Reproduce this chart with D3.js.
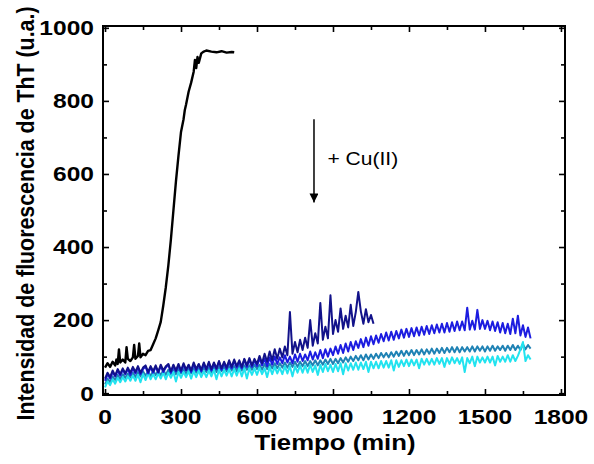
<!DOCTYPE html>
<html>
<head>
<meta charset="utf-8">
<script src="https://cdn.jsdelivr.net/npm/d3@7"></script>
<style>
  body { margin: 0; background: #fff; }
  svg { display: block; font-family: "Liberation Sans", Arial, sans-serif; }
</style>
</head>
<body>
<svg id="chart" width="594" height="464"></svg>
<script>
// sampling step (min) of the Cu(II) traces
const step = 10;

const blackTime = [0, 10, 20, 30, 40, 45, 50, 55, 60, 70, 80, 85, 90, 100, 110, 115, 120, 130, 135, 140,
  150, 160, 170, 180, 190, 200, 210, 220, 230, 240, 250, 260, 270, 280, 290, 300, 310, 315, 320, 330,
  340, 350, 355, 360, 365, 370, 380, 390, 400, 420, 440, 460, 480, 500, 510];
const blackValue = [70, 82, 72, 86, 76, 92, 80, 120, 84, 92, 84, 126, 94, 88, 98, 132, 94, 102, 136, 98,
  108, 104, 116, 118, 134, 150, 172, 195, 240, 290, 350, 420, 500, 580, 650, 715, 750, 775, 790, 825,
  850, 880, 912, 890, 920, 904, 930, 935, 938, 935, 933, 936, 932, 934, 933];

const navyValue = [
  40, 56, 44, 62, 48, 66, 52, 68, 54, 70,
  56, 72, 58, 74, 56, 70, 76, 58, 74, 60,
  76, 58, 78, 62, 74, 80, 60, 78, 62, 80,
  62, 82, 64, 78, 62, 84, 66, 80, 64, 84,
  66, 86, 66, 84, 68, 88, 68, 86, 70, 90,
  72, 92, 74, 90, 72, 94, 76, 96, 76, 94,
  80, 102, 82, 108, 86, 114, 90, 120, 94, 122,
  98, 128, 104, 222, 108, 140, 112, 146, 118, 152,
  124, 200, 130, 164, 136, 247, 146, 182, 150, 268,
  162, 200, 168, 232, 176, 212, 180, 242, 184, 222,
  277, 224, 190, 230, 194, 214, 190];

const blueValue = [
  34, 52, 40, 58, 46, 62, 48, 64, 52, 66,
  50, 68, 54, 70, 52, 66, 72, 54, 70, 56,
  72, 56, 74, 58, 70, 78, 56, 74, 60, 76,
  58, 78, 62, 76, 58, 80, 62, 78, 60, 80,
  64, 82, 62, 80, 66, 86, 64, 82, 66, 86,
  68, 88, 70, 86, 68, 92, 72, 92, 72, 90,
  74, 96, 76, 94, 74, 98, 78, 100, 80, 98,
  82, 104, 84, 100, 82, 106, 86, 108, 88, 106,
  90, 114, 92, 112, 94, 118, 96, 120, 100, 122,
  104, 128, 108, 132, 110, 136, 114, 140, 118, 142,
  124, 148, 126, 152, 130, 156, 134, 158, 138, 162,
  142, 166, 144, 168, 146, 170, 150, 174, 152, 176,
  154, 178, 156, 180, 158, 182, 160, 184, 162, 186,
  164, 188, 166, 190, 166, 192, 168, 194, 170, 196,
  172, 196, 172, 234, 174, 198, 174, 228, 176, 200,
  176, 198, 172, 196, 170, 194, 166, 192, 164, 190,
  162, 204, 164, 212, 158, 186, 154, 180, 150];

const tealValue = [
  24, 40, 30, 46, 36, 50, 38, 52, 42, 54,
  44, 56, 44, 58, 46, 60, 48, 60, 46, 62,
  50, 62, 48, 64, 50, 64, 52, 64, 52, 66,
  54, 66, 52, 68, 54, 68, 56, 68, 56, 70,
  58, 70, 56, 72, 58, 72, 60, 72, 60, 74,
  62, 74, 60, 76, 62, 76, 64, 76, 64, 78,
  66, 78, 64, 80, 66, 80, 68, 82, 68, 82,
  70, 84, 70, 84, 72, 86, 72, 86, 74, 88,
  74, 88, 76, 90, 76, 90, 78, 92, 80, 94,
  80, 94, 82, 96, 84, 98, 86, 100, 88, 102,
  90, 104, 90, 106, 92, 106, 94, 108, 96, 110,
  98, 110, 98, 112, 100, 114, 102, 116, 102, 116,
  104, 118, 104, 118, 106, 120, 106, 120, 108, 122,
  108, 122, 110, 124, 110, 124, 112, 126, 112, 126,
  112, 126, 114, 126, 114, 128, 114, 128, 116, 128,
  114, 128, 116, 130, 116, 128, 118, 130, 116, 130,
  118, 132, 118, 130, 118, 134, 120, 132, 122];

const cyanValue = [
  16, 32, 22, 38, 26, 42, 30, 44, 32, 46,
  34, 48, 34, 50, 30, 52, 36, 54, 38, 52,
  38, 54, 40, 56, 38, 56, 42, 58, 32, 58,
  42, 58, 44, 60, 40, 60, 44, 62, 44, 60,
  44, 62, 46, 64, 38, 64, 46, 64, 48, 66,
  46, 66, 48, 68, 46, 68, 40, 68, 50, 68,
  50, 70, 52, 68, 44, 72, 52, 72, 54, 70,
  52, 74, 54, 74, 46, 74, 56, 76, 56, 76,
  56, 78, 58, 76, 50, 78, 58, 80, 60, 78,
  58, 80, 60, 82, 52, 82, 62, 82, 64, 84,
  64, 84, 66, 86, 58, 86, 68, 86, 68, 88,
  70, 88, 70, 90, 62, 90, 72, 90, 74, 92,
  74, 92, 76, 92, 68, 94, 78, 94, 78, 94,
  78, 96, 80, 96, 72, 96, 80, 98, 82, 96,
  80, 98, 58, 96, 82, 100, 74, 100, 84, 98,
  84, 100, 84, 100, 76, 102, 86, 100, 86, 104,
  86, 104, 88, 102, 120, 140, 88, 104, 92];

const xTicks = [0, 300, 600, 900, 1200, 1500, 1800];
const xMinor = [150, 450, 750, 1050, 1350, 1650];
const yTicks = [0, 200, 400, 600, 800, 1000];
const yMinor = [100, 300, 500, 700, 900];

const xTitle = "Tiempo (min)";
const yTitle = "Intensidad de fluorescencia de ThT (u.a.)";
const noteText = "+ Cu(II)";
const noteArrow = { x: 825, from: 750, to: 522 };
const notePos = { x: 878, y: 625 };

const sx = 1.17; // horizontal stretch of the original artwork

const series = [
  { name: "teal", color: "#1f82b4", values: tealValue },
  { name: "cyan", color: "#22e3ef", values: cyanValue },
  { name: "blue", color: "#1c1ce0", values: blueValue },
  { name: "navy", color: "#12128a", values: navyValue },
];

const svg = d3.select("#chart");
const x = d3.scaleLinear().domain([-8, 1816]).range([103, 565]);
const y = d3.scaleLinear().domain([-5, 1005]).range([395, 26]);

const line = d3.line().x((d) => x(d[0])).y((d) => y(d[1]));

const gLines = svg.append("g").attr("class", "lines-g").attr("fill", "none")
  .attr("stroke-linejoin", "round");

series.forEach((s) => {
  gLines.append("path")
    .attr("stroke", s.color)
    .attr("stroke-width", 2)
    .attr("d", line(s.values.map((v, i) => [i * step, v])));
});

gLines.append("path")
  .attr("stroke", "#000")
  .attr("stroke-width", 2.4)
  .attr("d", line(blackTime.map((t, i) => [t, blackValue[i]])));

// ticks on all four sides, pointing inwards
const [x0, x1] = x.range();
const [y0, y1] = y.range();

function ticks(axis, tx, ty, vals, size) {
  svg.append("g")
    .attr("transform", `translate(${tx},${ty})`)
    .call(axis.tickValues(vals).tickSize(-size).tickSizeOuter(0).tickFormat(""))
    .call((g) => g.select(".domain").remove())
    .call((g) => g.selectAll("line").attr("stroke", "#000").attr("stroke-width", 1.6));
}
ticks(d3.axisBottom(x), 0, y0, xTicks, 6);
ticks(d3.axisBottom(x), 0, y0, xMinor, 4);
ticks(d3.axisTop(x), 0, y1, xTicks, 6);
ticks(d3.axisTop(x), 0, y1, xMinor, 4);
ticks(d3.axisLeft(y), x0, 0, yTicks, 6);
ticks(d3.axisLeft(y), x0, 0, yMinor, 4);
ticks(d3.axisRight(y), x1, 0, yTicks, 6);
ticks(d3.axisRight(y), x1, 0, yMinor, 4);

svg.append("rect")
  .attr("x", x0).attr("y", y1)
  .attr("width", x1 - x0).attr("height", y0 - y1)
  .attr("fill", "none").attr("stroke", "#000").attr("stroke-width", 2);

// tick labels
svg.append("g").selectAll("text").data(xTicks).join("text")
  .attr("transform", (d) => `translate(${x(d)},${y0 + 29}) scale(${sx},1)`)
  .attr("text-anchor", "middle")
  .attr("font-size", 21).attr("font-weight", "bold")
  .text((d) => d);

svg.append("g").selectAll("text").data(yTicks).join("text")
  .attr("transform", (d) => `translate(${x0 - 9},${y(d)}) scale(${sx},1)`)
  .attr("text-anchor", "end").attr("dy", "0.35em")
  .attr("font-size", 21).attr("font-weight", "bold")
  .text((d) => d);

svg.append("text")
  .attr("transform", `translate(${(x0 + x1) / 2 + 1},${y0 + 55}) scale(${sx},1)`)
  .attr("text-anchor", "middle")
  .attr("font-size", 22).attr("font-weight", "bold")
  .text(xTitle);

svg.append("text")
  .attr("transform", `translate(34,${(y0 + y1) / 2 + 3}) scale(${sx},1) rotate(-90)`)
  .attr("text-anchor", "middle")
  .attr("font-size", 20).attr("font-weight", "bold")
  .attr("textLength", 414).attr("lengthAdjust", "spacingAndGlyphs")
  .text(yTitle);

// + Cu(II) annotation
svg.append("defs").append("marker")
  .attr("id", "arrow-head")
  .attr("viewBox", "0 0 10 10")
  .attr("refX", 10).attr("refY", 5)
  .attr("markerWidth", 6).attr("markerHeight", 6)
  .attr("markerUnits", "strokeWidth")
  .attr("orient", "auto")
  .append("path").attr("d", "M0,0L10,5L0,10Z").attr("fill", "#000");

svg.append("line")
  .attr("x1", x(noteArrow.x)).attr("x2", x(noteArrow.x))
  .attr("y1", y(noteArrow.from)).attr("y2", y(noteArrow.to))
  .attr("stroke", "#000").attr("stroke-width", 1.5)
  .attr("marker-end", "url(#arrow-head)");

svg.append("text")
  .attr("transform", `translate(${x(notePos.x)},${y(notePos.y)}) scale(${sx},1)`)
  .attr("font-size", 18)
  .text(noteText);
</script>
</body>
</html>
